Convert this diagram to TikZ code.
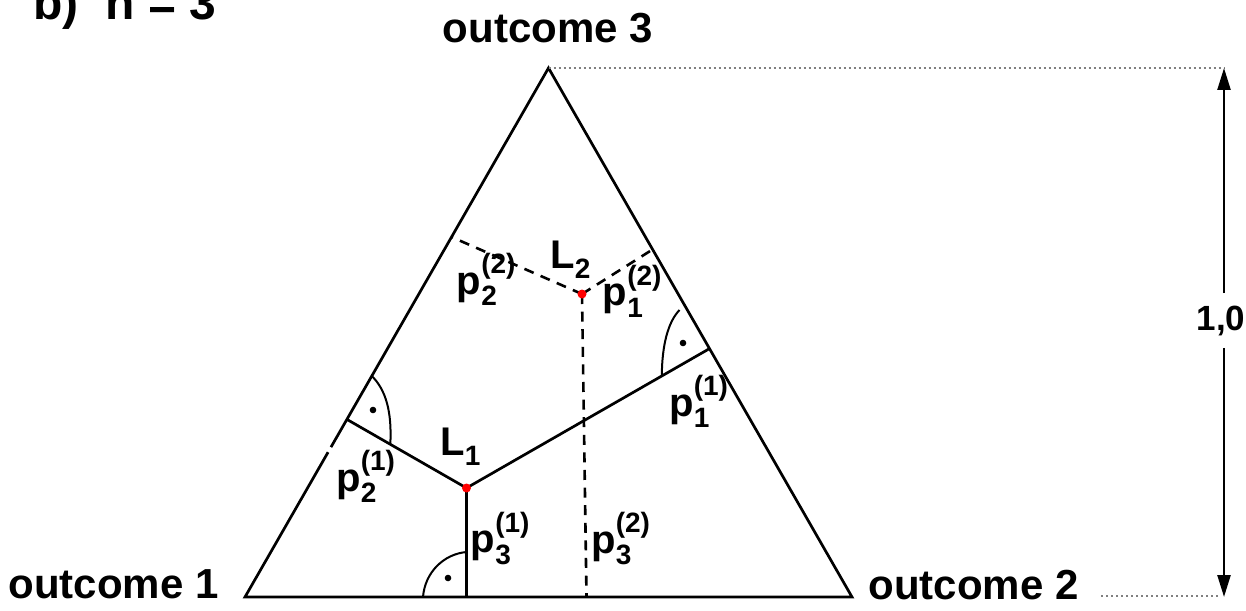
\documentclass[tikz,border=0pt]{standalone}
\usepackage{amsmath}
\usepackage{fontspec}
\setmainfont{Liberation Sans}
\usetikzlibrary{calc,arrows.meta}
\newcommand{\plab}[2]{$\textbf{p}_{\textbf{#1}}^{\textbf{(#2)}}$}
\newcommand{\Llab}[1]{$\textbf{L}_{\textbf{#1}}^{}$}
\begin{document}
\begin{tikzpicture}[x=0.5pt,y=-0.5pt,
  every node/.style={inner sep=0pt},
  edge/.style={line width=1.35pt},
  dashedge/.style={line width=1.3pt, dash pattern=on 5pt off 3.8pt},
  guide/.style={gray, line width=1pt, dash pattern=on 1pt off 1.5pt},
  ramark/.style={line width=1pt},
  outc/.style={font=\fontsize{21}{25}\selectfont\bfseries},
  lab/.style={font=\fontsize{20}{24}\selectfont\bfseries, anchor=base west},
  tip/.style={-{Triangle[length=11pt,width=6.5pt]}, line width=1.2pt}]
\useasboundingbox (0,0) rectangle (1246,610);
% vertices and points
\coordinate (A1) at (245,597);
\coordinate (A2) at (852,597);
\coordinate (A3) at (548.5,68);
\coordinate (L1) at (466.5,488);
\coordinate (L2) at (582,294);
\coordinate (F1b) at (L1 |- A1);
\coordinate (F1l) at ($(A1)!(L1)!(A3)$);
\coordinate (F1r) at ($(A2)!(L1)!(A3)$);
\coordinate (F2l) at ($(A1)!0.6805!(A3)$);
\coordinate (F2r) at ($(A2)!0.657!(A3)$);
\coordinate (F2b) at (586.5,597);
% triangle
\draw[edge, line join=miter] (A1) -- (A2) -- (A3) -- cycle;
\draw[white, line width=2.2pt] ($(A1)!0.274!(A3)$) -- ($(A1)!0.283!(A3)$);
% L1 perpendiculars
\draw[edge] (L1) -- (F1b);
\draw[edge] (L1) -- (F1l);
\draw[edge] (L1) -- (F1r);
% L2 dashed
\draw[dashedge] (L2) -- (F2l);
\draw[dashedge] (L2) -- (F2r);
\draw[dashedge] (L2) -- (F2b);
% right angle marks
\draw[ramark] (466.5,552) .. controls (444,554) and (425,572) .. (423,597);
\fill (448,578) circle (3.3);
\draw[ramark] (390.3,444.3) .. controls (392,412) and (386,390) .. (371.8,376);
\fill (373,410) circle (3.3);
\draw[ramark] (661.8,376) .. controls (662,345) and (668,322) .. (679.5,310);
\fill (683,343) circle (3.3);
% red points
\fill[red] (L1) circle (4.5);
\fill[red] (L2) circle (4.5);
% labels
\node[lab] (tL1) at (440,455) {\Llab{1}};
\node[lab] (tL2) at (550,268) {\Llab{2}};
\node[lab] (p21) at (336,491) {\plab{2}{1}};
\node[lab] (p31) at (470.5,552.5) {\plab{3}{1}};
\node[lab] (p11) at (669,416) {\plab{1}{1}};
\node[lab] (p22) at (456.5,294) {\plab{2}{2}};
\node[lab] (p12) at (602.5,305.5) {\plab{1}{2}};
\node[lab] (p32) at (591,553) {\plab{3}{2}};
% outcome labels
\node[outc, anchor=base west] (o1) at (8,598) {outcome 1};
\node[outc, anchor=base west] (o2) at (868,599) {outcome 2};
\node[outc, anchor=base] (o3) at (548,43) {outcome 3};
% title
\node[font=\fontsize{24}{28}\selectfont\bfseries, anchor=base west] (tb) at (33,20) {b)};
\node[font=\fontsize{24}{28}\selectfont\bfseries, anchor=base west] (tn) at (105,20) {n = 3};
% scale
\coordinate (Top) at (1224,68);
\coordinate (Bot) at (1224,597);
\coordinate (G2) at (1101,596);
\coordinate (G2e) at (1219,596);
\draw[guide] (A3) -- (Top);
\draw[guide] (G2) -- (G2e);
\node[font=\fontsize{17.5}{21}\selectfont\bfseries, fill=white, inner xsep=2pt, inner ysep=6pt] (one) at (1221,320.5) {1,0};
\draw[tip] (Top |- one.north) -- (Top);
\draw[tip] (Bot |- one.south) -- (Bot);
\end{tikzpicture}
\end{document}
